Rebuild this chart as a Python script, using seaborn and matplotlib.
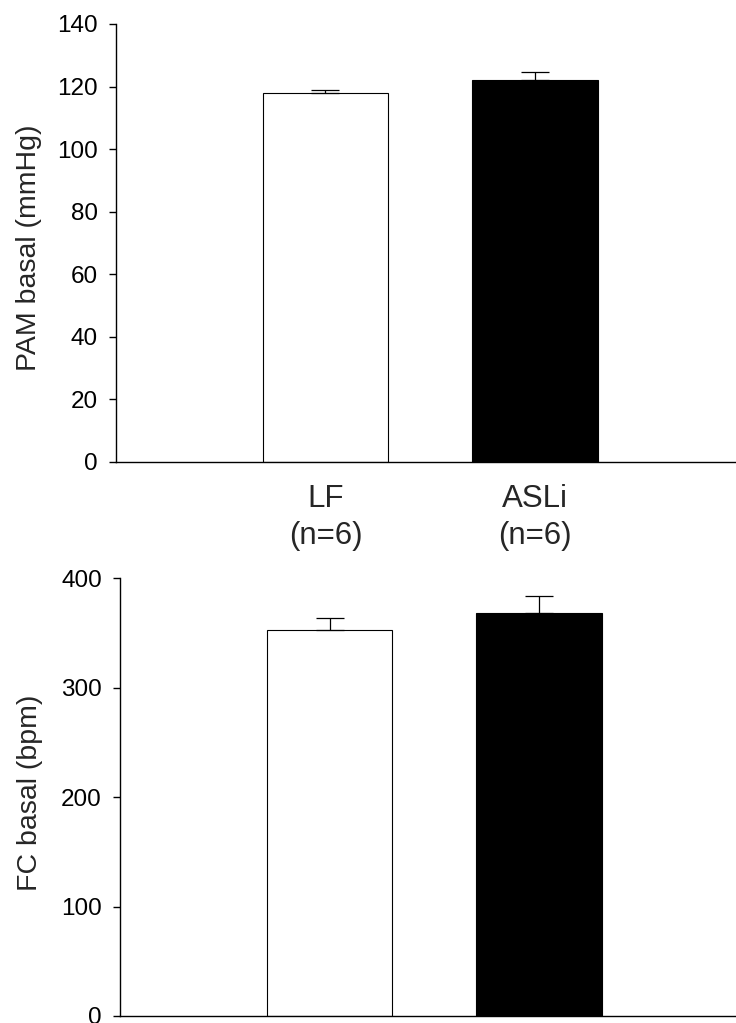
import numpy as np
import pandas as pd
import matplotlib
matplotlib.use('Agg')
import matplotlib.pyplot as plt
import seaborn as sns

# 数据
groups = ['LF', 'ASLi']
n_labels = ['LF\n(n=6)', 'ASLi\n(n=6)']
pam_mean = [118.0, 122.2]
pam_sem = [0.9, 2.3]
fc_mean = [352.8, 368.4]
fc_sem = [11.3, 15.8]
bar_colors = ['white', 'black']

sns.set_style('ticks')
plt.rcParams['font.family'] = ['Liberation Sans', 'DejaVu Sans']

fig = plt.figure(figsize=(7.36, 10.23), dpi=100)
ax1 = fig.add_axes([116 / 736, (1023 - 462) / 1023, 1 - 116 / 736, 438 / 1023])
ax2 = fig.add_axes([120 / 736, (1023 - 1016) / 1023, 1 - 120 / 736, 437.7 / 1023])


def draw_panel(ax, means, sems, ylim, yticks, ylabel, xmax):
    df = pd.DataFrame({'group': groups, 'value': means})
    sns.barplot(data=df, x='group', y='value', hue='group', palette=bar_colors,
                edgecolor='black', linewidth=0.8, width=0.6, legend=False, ax=ax)
    # 只画向上的误差线
    ax.errorbar(range(len(groups)), means, yerr=[np.zeros(len(sems)), sems],
                fmt='none', ecolor='black', elinewidth=0.9, capsize=10, capthick=0.9)
    ax.set_xlim(-1.0, xmax)
    ax.set_ylim(*ylim)
    ax.set_yticks(yticks)
    ax.set_ylabel(ylabel, fontsize=20.5)
    ax.set_xlabel('')
    for side in ['top', 'right']:
        ax.spines[side].set_visible(False)
    for side in ['left', 'bottom']:
        ax.spines[side].set_color('black')
        ax.spines[side].set_linewidth(1.0)
    ax.tick_params(axis='y', length=5, width=1.0, pad=8, labelsize=17.5, colors='black')
    ax.tick_params(axis='x', length=0)


draw_panel(ax1, pam_mean, pam_sem, (0, 140), np.arange(0, 141, 20), 'PAM basal (mmHg)', 1.96)
ax1.set_xticks(range(len(groups)))
ax1.set_xticklabels(n_labels, fontsize=22.5, linespacing=1.3)
ax1.tick_params(axis='x', pad=16)
ax1.yaxis.set_label_coords(-0.119, 0.49)

draw_panel(ax2, fc_mean, fc_sem, (0, 400), np.arange(0, 401, 100), 'FC basal (bpm)', 1.94)
ax2.set_xticklabels([])
ax2.yaxis.set_label_coords(-0.125, 0.51)

fig.savefig('out.png', dpi=100)
